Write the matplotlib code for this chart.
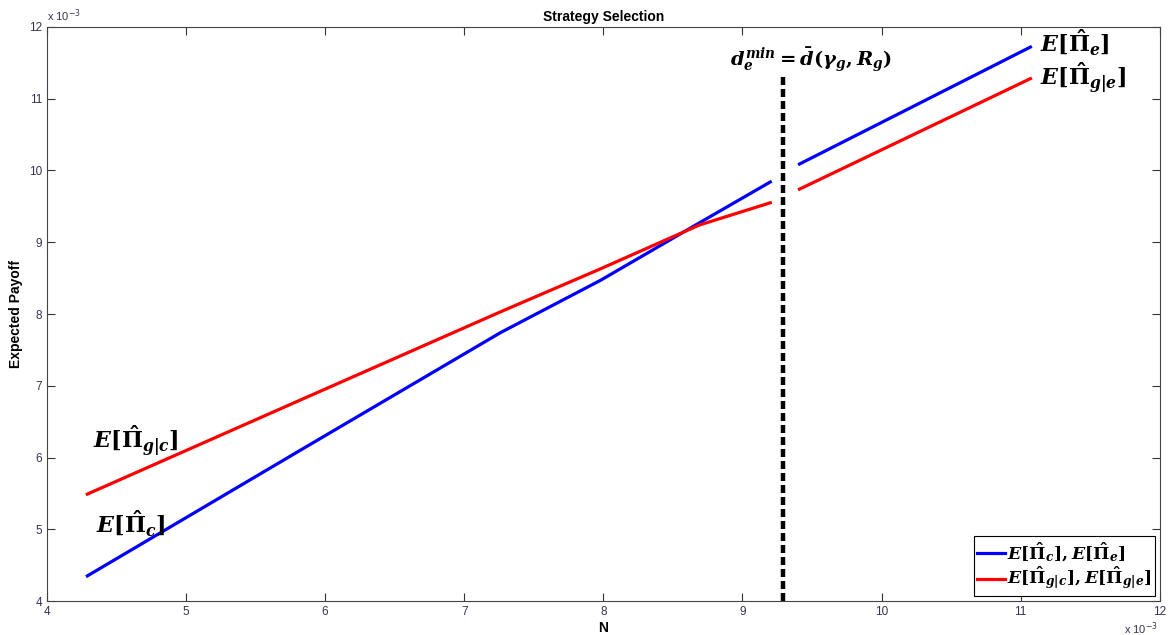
import numpy as np
import matplotlib
matplotlib.use('Agg')
import matplotlib.pyplot as plt

plt.rcParams['font.family'] = ['Liberation Sans', 'DejaVu Sans']
plt.rcParams['mathtext.fontset'] = 'custom'
plt.rcParams['mathtext.rm'] = 'DejaVu Serif:bold'
plt.rcParams['mathtext.it'] = 'DejaVu Serif:bold:italic'
plt.rcParams['mathtext.bf'] = 'DejaVu Serif:bold'

# values in units of 1e-3
n_low = [4.29, 5.82, 7.26, 7.98, 8.69, 9.20]
payoff_c = [4.35, 6.10, 7.74, 8.47, 9.27, 9.84]
payoff_gc = [5.49, 6.80, 8.03, 8.63, 9.24, 9.55]

n_high = [9.41, 11.07]
payoff_e = [10.09, 11.72]
payoff_ge = [9.74, 11.28]

threshold_n = 9.29
threshold_top = 11.35

fig = plt.figure(figsize=(11.75, 6.35), dpi=100)
ax = fig.add_axes([0.04, 0.0535, 0.947, 0.904])

lb, = ax.plot(n_low, payoff_c, color='#0000ff', lw=2.3,
              label=r'$E[\hat{\Pi}_c], E[\hat{\Pi}_e]$')
lr, = ax.plot(n_low, payoff_gc, color='#ff0000', lw=2.3,
              label=r'$E[\hat{\Pi}_{g|c}], E[\hat{\Pi}_{g|e}]$')
ax.plot(n_high, payoff_e, color='#0000ff', lw=2.3)
ax.plot(n_high, payoff_ge, color='#ff0000', lw=2.3)
ax.plot([threshold_n, threshold_n], [4, threshold_top], color='black', lw=3.2,
        dashes=(1.8, 0.9))

ax.set_xlim(4, 12)
ax.set_ylim(4, 12)
ax.set_xticks(range(4, 13))
ax.set_yticks(range(4, 13))
ax.tick_params(direction='in', length=6, labelsize=8.5, colors='#333333',
               top=True, right=True, labelcolor='#333355')
for s in ax.spines.values():
    s.set_color('#444444')

ax.text(9.49, 11.55, r'$d_e^{min} = \bar{d}(\gamma_g, R_g)$',
        fontsize=14, ha='center', va='center')
ax.text(11.14, 11.79, r'$E[\hat{\Pi}_e]$', fontsize=16, va='center')
ax.text(11.14, 11.29, r'$E[\hat{\Pi}_{g|e}]$', fontsize=16, va='center')
ax.text(4.33, 6.23, r'$E[\hat{\Pi}_{g|c}]$', fontsize=16, va='center')
ax.text(4.35, 5.09, r'$E[\hat{\Pi}_c]$', fontsize=16, va='center')

ax.set_title('Strategy Selection', fontsize=10, fontweight='bold', pad=4)
ax.set_xlabel('N', fontsize=10, fontweight='bold', labelpad=2)
ax.set_ylabel('Expected Payoff', fontsize=10, fontweight='bold', labelpad=4)

ax.text(0.0, 1.005, r'x 10$^{-3}$', transform=ax.transAxes, fontsize=8,
        color='#333355', va='bottom', math_fontfamily='dejavusans')
ax.text(0.968, -0.033, r'x 10$^{-3}$', transform=ax.transAxes, fontsize=8,
        color='#333355', va='top', math_fontfamily='dejavusans')

leg = ax.legend(handles=[lb, lr], loc='lower right', fontsize=12.5,
                fancybox=False, edgecolor='black', framealpha=1,
                borderpad=0.2, handlelength=1.6, handletextpad=0.1,
                labelspacing=0.1, borderaxespad=0.3)
leg.get_frame().set_linewidth(0.8)

fig.savefig('out.png', dpi=100)
